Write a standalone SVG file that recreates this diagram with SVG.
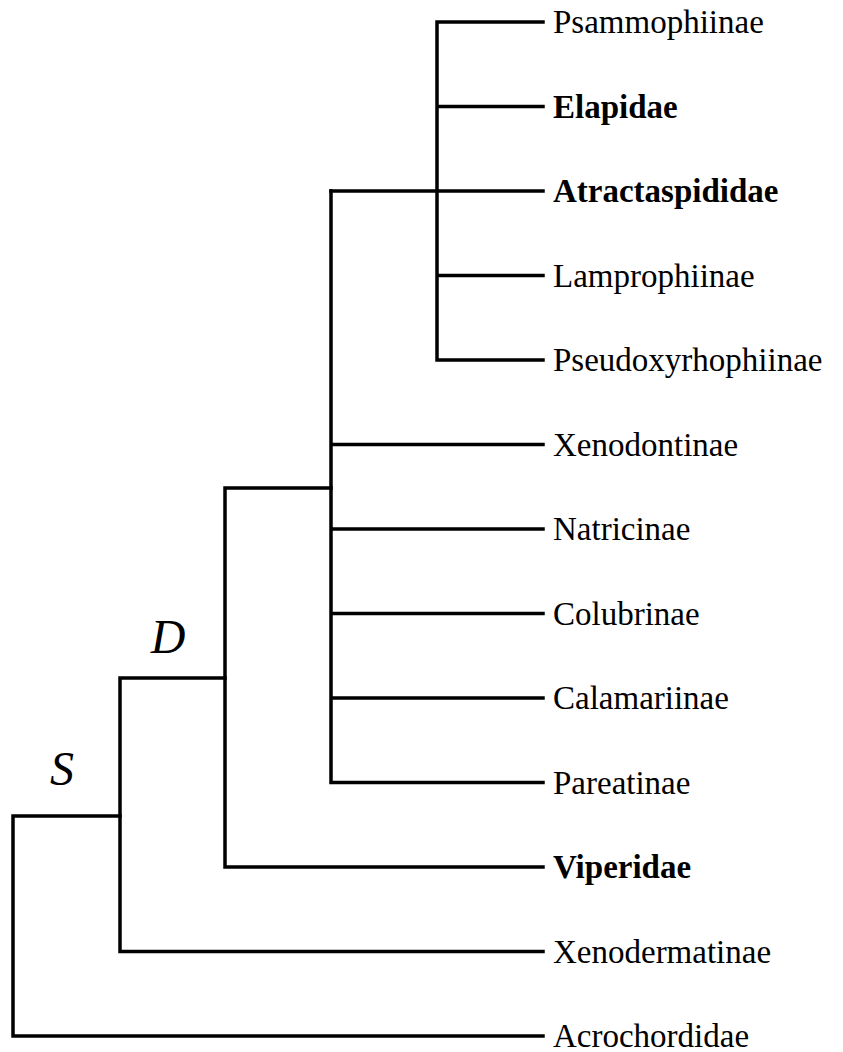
<svg xmlns="http://www.w3.org/2000/svg" width="843" height="1052" viewBox="0 0 843 1052">
<style>
.e{fill:none;stroke:#000;stroke-width:3.5;stroke-linecap:square;stroke-linejoin:miter}
.t{font-family:"Liberation Serif","Times New Roman",serif;font-size:33px;fill:#000}
.b{font-weight:bold}
.l{font-family:"Liberation Serif","Times New Roman",serif;font-size:48px;font-style:italic;fill:#000;text-anchor:middle}
</style>
<rect width="843" height="1052" fill="#fff"/>
<g id="connectors">
<path class="e" d="M543 22H437V360H543M437 106.5H543M437 275.5H543M331 191H543"/>
<path class="e" d="M331 191V782.5H543M331 444.5H543M331 529H543M331 613.5H543M331 698H543"/>
<path class="e" d="M225 488H331M225 488V867H543"/>
<path class="e" d="M120 678H225M120 678V951.5H543"/>
<path class="e" d="M13 816H120M13 816V1036H543"/>
</g>
<g id="label-D"><text class="l" x="168" y="653">D</text></g>
<g id="label-S"><text class="l" x="62" y="785">S</text></g>
<g id="leaf-psammophiinae"><text class="t" x="553" y="33">Psammophiinae</text></g>
<g id="leaf-elapidae"><text class="t b" x="553" y="117.5">Elapidae</text></g>
<g id="leaf-atractaspididae"><text class="t b" x="553" y="202">Atractaspididae</text></g>
<g id="leaf-lamprophiinae"><text class="t" x="553" y="286.5">Lamprophiinae</text></g>
<g id="leaf-pseudoxyrhophiinae"><text class="t" x="553" y="371">Pseudoxyrhophiinae</text></g>
<g id="leaf-xenodontinae"><text class="t" x="553" y="455.5">Xenodontinae</text></g>
<g id="leaf-natricinae"><text class="t" x="553" y="540">Natricinae</text></g>
<g id="leaf-colubrinae"><text class="t" x="553" y="624.5">Colubrinae</text></g>
<g id="leaf-calamariinae"><text class="t" x="553" y="709">Calamariinae</text></g>
<g id="leaf-pareatinae"><text class="t" x="553" y="793.5">Pareatinae</text></g>
<g id="leaf-viperidae"><text class="t b" x="553" y="878">Viperidae</text></g>
<g id="leaf-xenodermatinae"><text class="t" x="553" y="962.5">Xenodermatinae</text></g>
<g id="leaf-acrochordidae"><text class="t" x="553" y="1047">Acrochordidae</text></g>
</svg>
